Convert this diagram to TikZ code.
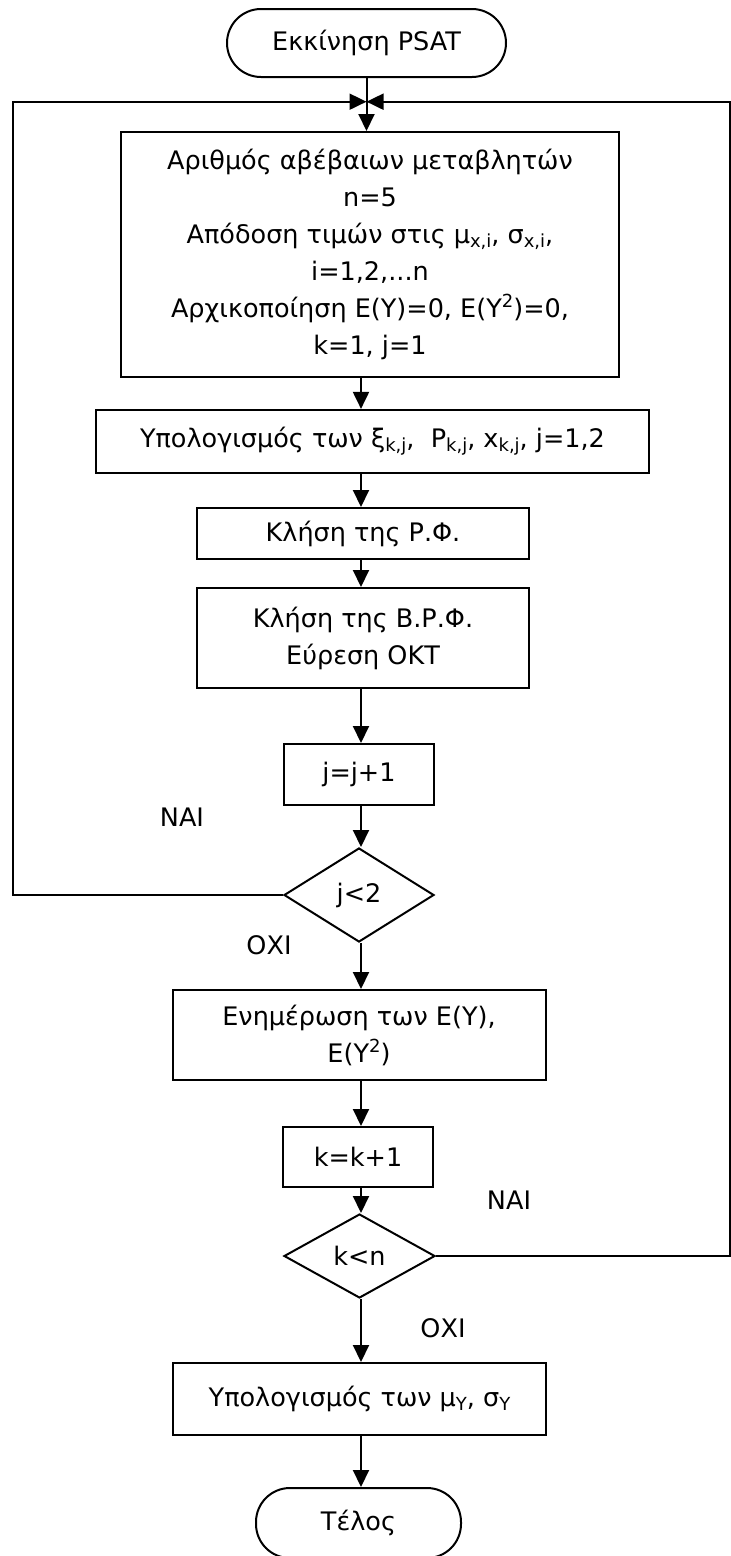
\documentclass[tikz,border=0pt]{standalone}
\usepackage{fontspec}
\setmainfont{DejaVu Sans}
\usetikzlibrary{shapes.geometric,arrows.meta}
\newcommand\mysb[1]{\raisebox{-0.28ex}{\fontsize{18}{18}\selectfont #1}}
\newcommand\mysp[1]{\raisebox{0.7ex}{\fontsize{18}{18}\selectfont #1}}
\begin{document}
\begin{tikzpicture}[x=1pt,y=-1pt,
  every node/.style={inner sep=0pt, align=center, font=\fontsize{25.5}{37}\selectfont},
  proc/.style={draw, line width=2pt, rectangle},
  term/.style={draw, line width=2pt, rectangle, rounded corners=34pt},
  dec/.style={draw, line width=2pt, diamond},
  conn/.style={line width=2pt},
  arr/.style={conn, -{Triangle[length=17pt,width=16pt]}}]
\useasboundingbox (0,0) rectangle (731,1556);
\clip (0,0) rectangle (731,1556);
\coordinate (ax) at (361,0);
\coordinate (tl) at (12.6,101.7);
\coordinate (tr) at (729.5,101.7);

\node[term, minimum width=279pt, minimum height=68pt] (start) at (366.5,43) {Εκκίνηση PSAT};
\node[proc, minimum width=498pt, minimum height=245pt] (box1) at (370,254.5)
  {Αριθμός αβέβαιων μεταβλητών\\ n=5\\ Απόδοση τιμών στις μ\mysb{x,i}, σ\mysb{x,i},\\ i=1,2,...n\\ Αρχικοποίηση E(Y)=0, E(Y\mysp{2})=0,\\ k=1, j=1};
\node[proc, minimum width=553pt, minimum height=63pt] (box2) at (372.5,441.4)
  {Υπολογισμός των ξ\mysb{k,j},\ \ P\mysb{k,j}, x\mysb{k,j}, j=1,2};
\node[proc, minimum width=332pt, minimum height=51pt] (box3) at (363,533.5) {Κλήση της Ρ.Φ.};
\node[proc, minimum width=332pt, minimum height=100pt] (box4) at (363,638) {Κλήση της Β.Ρ.Φ.\\ Εύρεση ΟΚΤ};
\node[proc, minimum width=150pt, minimum height=61pt] (box5) at (359,774.5) {j=j+1};
\node[dec, minimum width=150pt, minimum height=94pt] (dec1) at (359,895) {j<2};
\node[proc, minimum width=373pt, minimum height=90pt] (box6) at (359,1035) {Ενημέρωση των E(Y),\\ E(Y\mysp{2})};
\node[proc, minimum width=150pt, minimum height=60pt] (box7) at (358,1157) {k=k+1};
\node[dec, minimum width=151pt, minimum height=84pt] (dec2) at (359.5,1256) {k<n};
\node[proc, minimum width=373pt, minimum height=72pt] (box8) at (359.5,1399) {Υπολογισμός των μ\mysb{Y}, σ\mysb{Y}};
\node[term, minimum width=205pt, minimum height=70pt] (end) at (358.5,1523) {Τέλος};

\node (nai1) at (182,817) {ΝΑΙ};
\node (oxi1) at (269,945) {ΟΧΙ};
\node (nai2) at (509,1200) {ΝΑΙ};
\node (oxi2) at (443,1328) {ΟΧΙ};

\draw[arr] (start.south) -- (start.south |- box1.north);
\draw[arr] (dec1.west) -| (tl) -- (start.south |- tl);
\draw[arr] (dec2.east) -| (tr) -- (start.south |- tr);
\draw[arr] (box1.south -| ax) -- (box2.north -| ax);
\draw[arr] (box2.south -| ax) -- (box3.north -| ax);
\draw[arr] (box3.south -| ax) -- (box4.north -| ax);
\draw[arr] (box4.south -| ax) -- (box5.north -| ax);
\draw[arr] (box5.south -| ax) -- (dec1.north -| ax);
\draw[arr] (dec1.south -| ax) -- (box6.north -| ax);
\draw[arr] (box6.south -| ax) -- (box7.north -| ax);
\draw[arr] (box7.south -| ax) -- (dec2.north -| ax);
\draw[arr] (dec2.south -| ax) -- (box8.north -| ax);
\draw[arr] (box8.south -| ax) -- (end.north -| ax);
\end{tikzpicture}
\end{document}
